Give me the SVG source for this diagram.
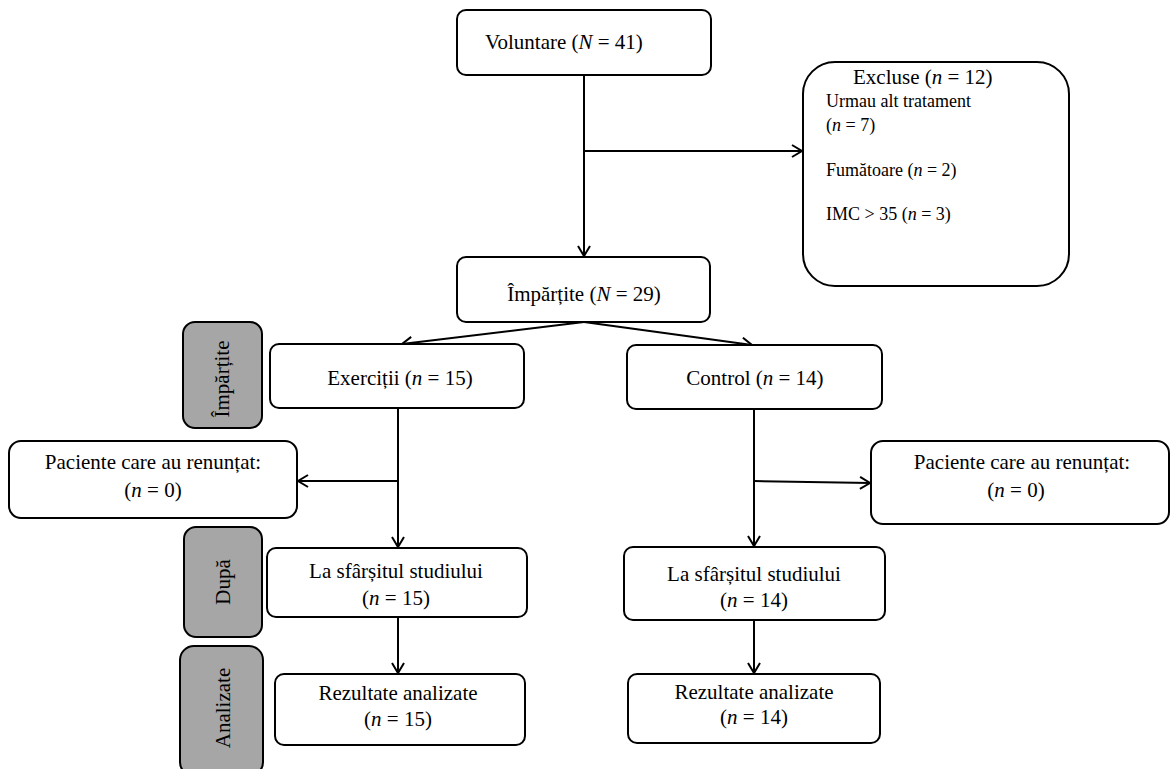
<svg xmlns="http://www.w3.org/2000/svg" width="1170" height="769" viewBox="0 0 1170 769">
<defs>
<style>
.box{fill:#fff;stroke:#000;stroke-width:2}
.side{fill:#a6a6a6;stroke:#000;stroke-width:2}
.t{font-family:"Liberation Serif","Times New Roman",serif;font-size:21px;fill:#000}
.s{font-size:18px}
.c{text-anchor:middle}
.i{font-style:italic}
.ln{fill:none;stroke:#000;stroke-width:2}
</style>
<marker id="ah" markerWidth="14" markerHeight="14" refX="11" refY="7" orient="auto" markerUnits="userSpaceOnUse">
<path d="M1,1 L11,7 L1,13" fill="none" stroke="#000" stroke-width="2"/>
</marker>
</defs>
<rect width="1170" height="769" fill="#fff"/>
<g id="connectors">
<line class="ln" x1="584" y1="75" x2="584" y2="256" marker-end="url(#ah)"/>
<line class="ln" x1="584" y1="151" x2="802" y2="151" marker-end="url(#ah)"/>
<line class="ln" x1="584" y1="322" x2="402" y2="344" marker-end="url(#ah)"/>
<line class="ln" x1="584" y1="322" x2="752" y2="345" marker-end="url(#ah)"/>
<line class="ln" x1="398" y1="408" x2="398" y2="547" marker-end="url(#ah)"/>
<line class="ln" x1="398" y1="481" x2="298" y2="481" marker-end="url(#ah)"/>
<line class="ln" x1="754" y1="409" x2="754" y2="546" marker-end="url(#ah)"/>
<line class="ln" x1="754" y1="481" x2="870" y2="483" marker-end="url(#ah)"/>
<line class="ln" x1="398" y1="617" x2="398" y2="673" marker-end="url(#ah)"/>
<line class="ln" x1="754" y1="620" x2="754" y2="673" marker-end="url(#ah)"/>
</g>
<g id="voluntare">
<rect class="box" x="457" y="10" width="254" height="65" rx="9"/>
<text class="t" x="485" y="49">Voluntare (<tspan class="i">N</tspan> = 41)</text>
</g>
<g id="excluse">
<rect class="box" x="803" y="62" width="266" height="224" rx="32"/>
<text class="t" x="853" y="84">Excluse (<tspan class="i">n</tspan> = 12)</text>
<text class="t s" x="826" y="107">Urmau alt tratament</text>
<text class="t s" x="826" y="131">(<tspan class="i">n</tspan> = 7)</text>
<text class="t s" x="826" y="176">Fumătoare (<tspan class="i">n</tspan> = 2)</text>
<text class="t s" x="826" y="220">IMC &gt; 35 (<tspan class="i">n</tspan> = 3)</text>
</g>
<g id="impartite">
<rect class="box" x="457" y="257" width="253" height="65" rx="9"/>
<text class="t c" x="584" y="301">Împărțite (<tspan class="i">N</tspan> = 29)</text>
</g>
<g id="side-impartite">
<rect class="side" x="183" y="322" width="79" height="106" rx="12"/>
<text class="t c" transform="translate(229,379) rotate(-90)">Împărțite</text>
</g>
<g id="exercitii">
<rect class="box" x="270" y="344" width="254" height="64" rx="9"/>
<text class="t c" x="400" y="385">Exerciții (<tspan class="i">n</tspan> = 15)</text>
</g>
<g id="control">
<rect class="box" x="627" y="345" width="255" height="64" rx="9"/>
<text class="t c" x="755" y="385">Control (<tspan class="i">n</tspan> = 14)</text>
</g>
<g id="renuntat-left">
<rect class="box" x="9" y="441" width="288" height="77" rx="12"/>
<text class="t c" x="153" y="469">Paciente care au renunțat:</text>
<text class="t c" x="153" y="497">(<tspan class="i">n</tspan> = 0)</text>
</g>
<g id="renuntat-right">
<rect class="box" x="871" y="441" width="298" height="83" rx="12"/>
<text class="t c" x="1022" y="469">Paciente care au renunțat:</text>
<text class="t c" x="1016" y="497">(<tspan class="i">n</tspan> = 0)</text>
</g>
<g id="side-dupa">
<rect class="side" x="184" y="527" width="78" height="110" rx="12"/>
<text class="t c" transform="translate(230,582) rotate(-90)">După</text>
</g>
<g id="sfarsit-left">
<rect class="box" x="267" y="548" width="260" height="69" rx="9"/>
<text class="t c" x="396" y="578">La sfârșitul studiului</text>
<text class="t c" x="396" y="605">(<tspan class="i">n</tspan> = 15)</text>
</g>
<g id="sfarsit-right">
<rect class="box" x="624" y="547" width="261" height="73" rx="9"/>
<text class="t c" x="754" y="581">La sfârșitul studiului</text>
<text class="t c" x="754" y="607">(<tspan class="i">n</tspan> = 14)</text>
</g>
<g id="side-analizate">
<rect class="side" x="180" y="646" width="83" height="130" rx="14"/>
<text class="t c" transform="translate(230,708) rotate(-90)">Analizate</text>
</g>
<g id="rezultate-left">
<rect class="box" x="275" y="674" width="250" height="71" rx="9"/>
<text class="t c" x="398" y="700">Rezultate analizate</text>
<text class="t c" x="398" y="726">(<tspan class="i">n</tspan> = 15)</text>
</g>
<g id="rezultate-right">
<rect class="box" x="628" y="674" width="252" height="69" rx="9"/>
<text class="t c" x="754" y="699">Rezultate analizate</text>
<text class="t c" x="754" y="724">(<tspan class="i">n</tspan> = 14)</text>
</g>
</svg>
